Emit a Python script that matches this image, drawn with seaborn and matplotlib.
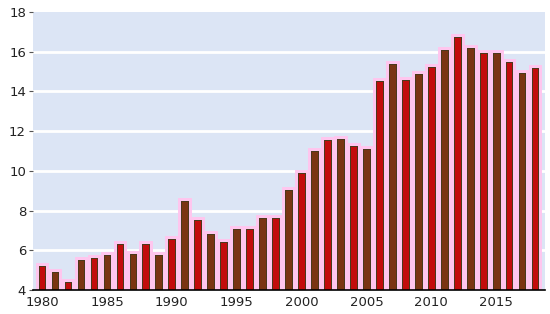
import matplotlib
matplotlib.use("Agg")
import matplotlib.pyplot as plt
import matplotlib.patheffects as pe
import seaborn as sns
import pandas as pd

years = list(range(1980, 2019))
values = [5.2, 4.9, 4.4, 5.5, 5.6, 5.75, 6.3, 5.8, 6.3, 5.75,
          6.55, 8.5, 7.5, 6.8, 6.4, 7.05, 7.05, 7.65, 7.65, 9.05,
          9.9, 11.0, 11.55, 11.6, 11.25, 11.1, 14.5, 15.4, 14.55, 14.85,
          15.25, 16.1, 16.75, 16.2, 15.95, 15.95, 15.5, 14.95, 15.2]
tick_years = [1980, 1985, 1990, 1995, 2000, 2005, 2010, 2015]
y_ticks = [4, 6, 8, 10, 12, 14, 16, 18]

df = pd.DataFrame({"year": years, "value": values})
colors = ["#c20c0c" if i % 2 == 0 else "#7a3412" for i in range(len(years))]

sns.set_style("white")
plt.rcParams["font.family"] = ["DejaVu Sans"]

fig = plt.figure(figsize=(5.5, 3.14), dpi=100)
ax = fig.add_axes([0.06, 0.0764, 0.931, 0.8856])
ax.set_facecolor("#dce5f5")

sns.barplot(data=df, x="year", y="value", hue="year", palette=colors,
            legend=False, width=0.52, saturation=1, edgecolor="#4a3a1c",
            linewidth=0.7, ax=ax, zorder=3)
for p in ax.patches:
    p.set_path_effects([pe.withStroke(linewidth=5, foreground="#ffc6ee"), pe.Normal()])

ax.set_ylim(4, 18)
ax.set_xlim(-0.7, len(years) - 0.23)
ax.set_yticks(y_ticks)
ax.set_yticklabels([str(v) for v in y_ticks])
pos = [years.index(y) for y in tick_years]
ax.set_xticks(pos)
ax.set_xticklabels([str(y) for y in tick_years])
ax.grid(axis="y", color="white", linewidth=2, zorder=1)
ax.get_ygridlines()[-1].set_visible(False)
ax.get_ygridlines()[0].set_visible(False)
ax.set_axisbelow(True)
ax.set_xlabel("")
ax.set_ylabel("")
for s in ["top", "right", "left"]:
    ax.spines[s].set_visible(False)
ax.spines["bottom"].set_color("black")
ax.spines["bottom"].set_linewidth(1.2)
ax.spines["bottom"].set_zorder(5)
ax.tick_params(axis="y", length=3, width=0.8, color="#555555", pad=2, labelsize=9.5,
               labelcolor="#222222", left=True)
ax.tick_params(axis="x", length=0, pad=4, labelsize=9.5, labelcolor="#222222")

fig.savefig("out.png", dpi=100)
